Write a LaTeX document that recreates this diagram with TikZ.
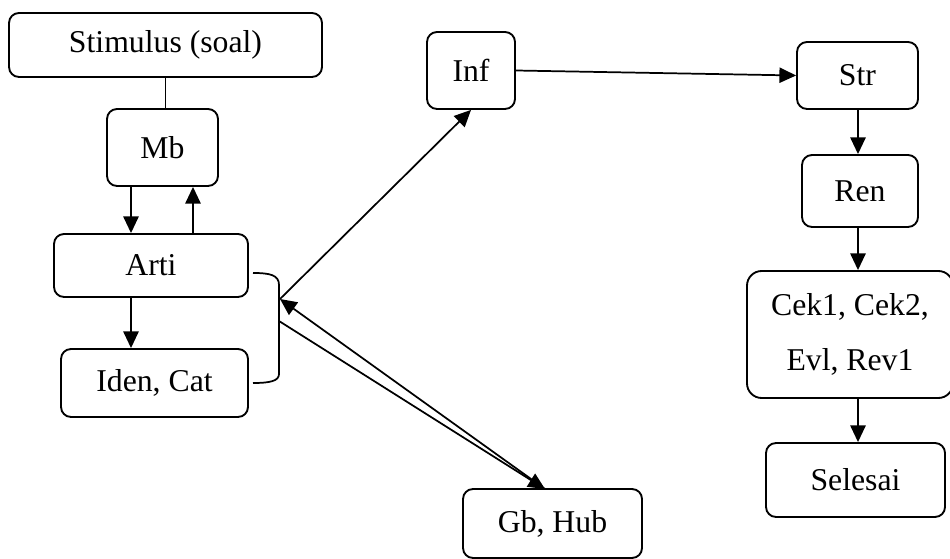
\documentclass[tikz,border=0pt]{standalone}
\usepackage{fontspec}
\setmainfont{Liberation Serif}
\usetikzlibrary{arrows.meta}
\begin{document}
\begin{tikzpicture}[x=0.75pt,y=-0.75pt,
  box/.style={draw,line width=1.4pt,rounded corners=7.5pt,inner sep=0pt,align=center,
    font=\fontsize{23.8}{41}\selectfont},
  conn/.style={line width=1.3pt,-{Triangle[length=12.5pt,width=11.5pt]}},
  plain/.style={line width=1.3pt}]
\useasboundingbox (0,0) rectangle (950,559);
\node[box,minimum width=234.75pt,minimum height=48pt] (stim) at (165.5,45) {Stimulus (soal)};
\node[box,minimum width=83.25pt,minimum height=57.75pt] (mb) at (162.5,147.5) {Mb};
\node[box,minimum width=145.5pt,minimum height=47.25pt] (arti) at (151,265.5) {Arti};
\node[box,minimum width=140.25pt,minimum height=51pt] (iden) at (154.5,383) {Iden, Cat};
\node[box,minimum width=66pt,minimum height=57.75pt] (inf) at (471,70.5) {Inf};
\node[box,minimum width=90.75pt,minimum height=50.25pt] (str) at (857.5,75.5) {Str};
\node[box,minimum width=87pt,minimum height=54pt] (ren) at (860,191) {Ren};
\node[box,minimum width=154.5pt,minimum height=95.25pt,rounded corners=11pt] (cek) at (850,334.5) {Cek1, Cek2,\\Evl, Rev1};
\node[box,minimum width=134.25pt,minimum height=55.5pt] (sel) at (855.5,480) {Selesai};
\node[box,minimum width=134.25pt,minimum height=51.75pt] (gb) at (552.5,523.5) {Gb, Hub};
% helper coordinates
\coordinate (cl) at (131,0);
\coordinate (cr) at (193,0);
\coordinate (rc) at (858,0);
\coordinate (bt) at (253,273);
\coordinate (bb) at (253,383);
\coordinate (bin) at (280,299);
\coordinate (bout) at (279,321);
\coordinate (gtop) at (545,489);
% connectors
\draw[plain] (stim.south) -- (stim.south |- mb.north);
\draw[conn] (cl |- mb.south) -- (cl |- arti.north);
\draw[conn] (cr |- arti.north) -- (cr |- mb.south);
\draw[conn] (cl |- arti.south) -- (cl |- iden.north);
\draw[plain] (bt) .. controls (270,273) and (279,275) .. (279,285) -- (279,374)
  .. controls (279,381) and (270,383) .. (bb);
\draw[conn] (bin) -- (inf.south);
\draw[conn] (inf.east) -- (str.west);
\draw[conn] (gtop) -- (bin);
\draw[conn] (bout) -- (gtop);
\draw[conn] (rc |- str.south) -- (rc |- ren.north);
\draw[conn] (rc |- ren.south) -- (rc |- cek.north);
\draw[conn] (rc |- cek.south) -- (rc |- sel.north);
\end{tikzpicture}
\end{document}
